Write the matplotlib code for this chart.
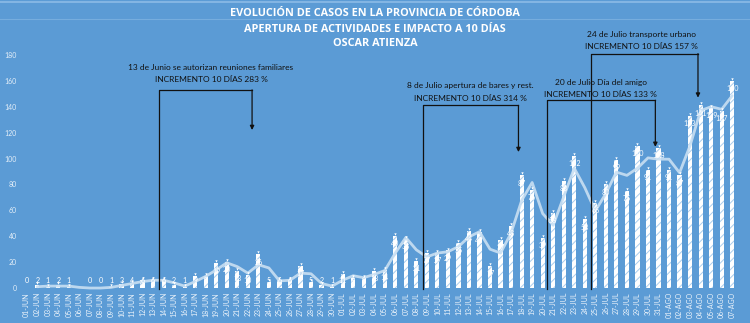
import numpy as np
import pandas as pd
import matplotlib
matplotlib.use('Agg')
from matplotlib import pyplot as plt

plt.rcParams['font.family'] = ['Lato', 'DejaVu Sans']
plt.rcParams['hatch.linewidth'] = 0.7

# casos diarios 01-JUN .. 07-AGO (None = sin dato)
casos_jun = [0, 2, 1, 2, 1, None, 0, 0, 1, 3, 4, 6, 6, 6, 2, 1, 9, 9, 19, 20,
             13, 10, 26, 5, 6, 6, 17, 5, 2, 1]
casos_jul = [11, 8, 8, 13, 14, 40, 38, 21, 27, 27, 29, 35, 44, 43, 17, 37, 48,
             87, 76, 39, 58, 83, 102, 53, 66, 80, 99, 75, 110, 91, 108]
casos_ago = [91, 87, 133, 141, 139, 137, 160]

fechas = (['%02d-JUN' % d for d in range(1, 31)] +
          ['%02d-JUL' % d for d in range(1, 32)] +
          ['%02d-AGO' % d for d in range(1, 8)])
casos = casos_jun + casos_jul + casos_ago
y_ticks = list(range(0, 181, 20))

titulo = ['EVOLUCIÓN DE CASOS EN LA PROVINCIA DE CÓRDOBA',
          'APERTURA DE ACTIVIDADES E IMPACTO A 10 DÍAS',
          'OSCAR ATIENZA']

# eventos: (texto, linea 2, x inicio, x flecha, altura caja, punta flecha, posicion texto)
eventos = [
    ('13 de Junio se autorizan reuniones familiares', 'INCREMENTO 10 DÍAS 283 %',
     12.56, 21.4, 153, 122, (17.5, 170.5)),
    ('8 de Julio apertura de bares y rest.', 'INCREMENTO 10 DÍAS 314 %',
     37.6, 46.7, 141, 105, (42.1, 156)),
    ('20 de Julio Día del amigo', 'INCREMENTO 10 DÍAS 133 %',
     49.4, 59.7, 145, 109, (54.5, 159)),
    ('24 de Julio transporte urbano', 'INCREMENTO 10 DÍAS 157 %',
     53.6, 63.75, 181, 147, (58.4, 196)),
]

fondo = '#5B9BD5'
s = pd.Series([np.nan if v is None else v for v in casos], dtype=float)
media = s.fillna(0).rolling(2).mean()
x = np.arange(len(casos))

fig = plt.figure(figsize=(7.5, 3.23), dpi=100)
fig.patch.set_facecolor(fondo)
ax = fig.add_axes([0, 0, 1, 1])
ax.set_facecolor(fondo)
ax.set_xlim(-2.54, 68.69)
ax.set_ylim(-27, 222.4)
for sp in ax.spines.values():
    sp.set_visible(False)

ax.bar(x, s.fillna(0), width=0.4, color='white', edgecolor='#A9CCEC',
       hatch='////', linewidth=0, zorder=2)
ax.plot(x, media, color='#C9DFF2', lw=2.0, alpha=0.9, zorder=3,
        solid_capstyle='round', solid_joinstyle='round')
ok = s.notna() & (s > 0)
ax.scatter(x[ok], s[ok] + 1.5, marker='v', s=3, color='white', lw=0, zorder=4)
for xi, v in zip(x, casos):
    if v is None:
        continue
    ax.text(xi, max(v - 6, 5.5), str(v), ha='center', va='center',
            fontsize=5.1, color='white', zorder=5)

ax.set_xticks(x)
ax.set_xticklabels(fechas, rotation=90, fontsize=5, color='#EAF2FA')
ax.tick_params(axis='x', length=0, pad=-22.3)
ax.set_yticks(y_ticks)
ax.set_yticklabels([str(t) for t in y_ticks], fontsize=5, color='#E3EEF8')
ax.tick_params(axis='y', length=0, pad=-12)

for t1, t2, x0, x1, top, tip, (tx, ty) in eventos:
    ax.plot([x0, x0, x1], [-1, top, top], color='#111111', lw=0.9, zorder=6)
    ax.annotate('', xy=(x1, tip), xytext=(x1, top),
                arrowprops=dict(arrowstyle='-|>', color='#111111', lw=0.9,
                                mutation_scale=6, shrinkA=0, shrinkB=0),
                zorder=6)
    ax.text(tx, ty, t1, ha='center', va='center', fontsize=6, color='#111111')
    ax.text(tx, ty - 9.5, t2, ha='center', va='center', fontsize=6,
            color='#111111')

for i, linea in enumerate(titulo):
    fig.text(0.5, 1 - (14 + 15 * i) / 323, linea, ha='center', va='center',
             fontsize=7.8, fontweight='bold', color='white',
             family=['Open Sans', 'DejaVu Sans'])

fig.add_artist(plt.Line2D([0, 1], [1 - 19 / 323] * 2, color='#76ADDE', lw=0.8))
fig.add_artist(plt.Line2D([0, 1], [1 - 2 / 323] * 2, color='#8CBBE6', lw=1.2))

plt.savefig('out.png', dpi=100, facecolor=fondo)
